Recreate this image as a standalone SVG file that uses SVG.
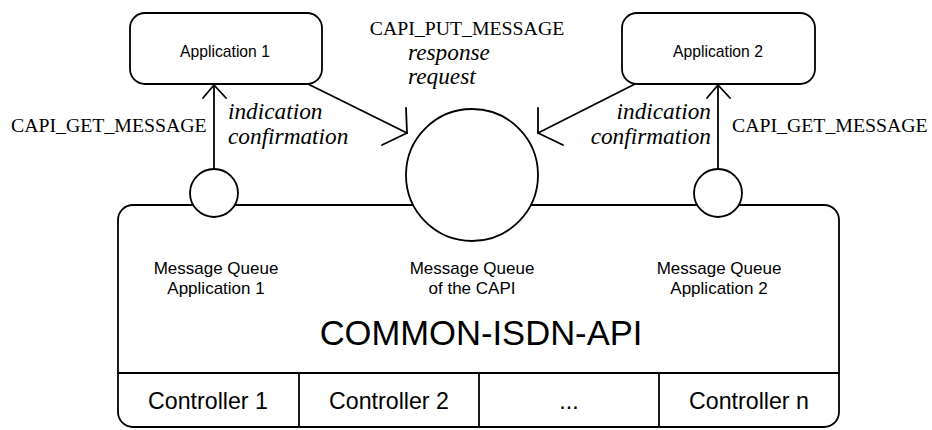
<svg xmlns="http://www.w3.org/2000/svg" width="932" height="430" viewBox="0 0 932 430">
<style>
.ln{fill:none;stroke:#000;stroke-width:1.8;stroke-linecap:round;stroke-linejoin:round}
.bx{fill:#fff;stroke:#000;stroke-width:1.8}
.sans{font-family:"Liberation Sans",Arial,sans-serif;fill:#000}
.serif{font-family:"Liberation Serif","Times New Roman",serif;fill:#000;font-size:19.8px}
.it{font-family:"Liberation Serif","Times New Roman",serif;font-style:italic;fill:#000;font-size:23.3px}
</style>
<rect width="932" height="430" fill="#fff"/>
<g id="capi">
<rect class="bx" x="118" y="205" width="721" height="222" rx="15"/>
<line class="ln" x1="118" y1="373" x2="839" y2="373"/>
<line class="ln" x1="299" y1="373" x2="299" y2="427"/>
<line class="ln" x1="479" y1="373" x2="479" y2="427"/>
<line class="ln" x1="659" y1="373" x2="659" y2="427"/>
<text class="sans" x="481" y="345" font-size="34.6" text-anchor="middle">COMMON-ISDN-API</text>
<text class="sans" x="208" y="409" font-size="23.2" text-anchor="middle">Controller 1</text>
<text class="sans" x="389" y="409" font-size="23.2" text-anchor="middle">Controller 2</text>
<text class="sans" x="569" y="409" font-size="23.2" text-anchor="middle">...</text>
<text class="sans" x="749" y="409" font-size="23.2" text-anchor="middle">Controller n</text>
</g>
<g id="queue1">
<circle class="bx" cx="214" cy="193" r="24"/>
<text class="sans" font-size="17" text-anchor="middle"><tspan x="216" y="274">Message Queue</tspan><tspan x="216" y="294">Application 1</tspan></text>
</g>
<g id="queueCapi">
<circle class="bx" cx="472" cy="175" r="66"/>
<text class="sans" font-size="17" text-anchor="middle"><tspan x="472" y="274">Message Queue</tspan><tspan x="472" y="294">of the CAPI</tspan></text>
</g>
<g id="queue2">
<circle class="bx" cx="718" cy="193" r="24"/>
<text class="sans" font-size="17" text-anchor="middle"><tspan x="719" y="274">Message Queue</tspan><tspan x="719" y="294">Application 2</tspan></text>
</g>
<g id="app1">
<rect class="bx" x="130" y="13" width="192" height="71" rx="15"/>
<text class="sans" x="225" y="57" font-size="15.7" text-anchor="middle">Application 1</text>
</g>
<g id="app2">
<rect class="bx" x="622" y="13" width="193" height="71" rx="15"/>
<text class="sans" x="718" y="57" font-size="15.7" text-anchor="middle">Application 2</text>
</g>
<g id="connectors">
<line class="ln" x1="214" y1="169" x2="214" y2="85"/>
<polyline class="ln" points="203,98 214,85 226,98"/>
<line class="ln" x1="718" y1="169" x2="718" y2="85"/>
<polyline class="ln" points="707,98 718,85 730,98"/>
<line class="ln" x1="308" y1="84" x2="407" y2="133"/>
<polyline class="ln" points="406,108 407,133 382,145"/>
<line class="ln" x1="635" y1="84" x2="538" y2="133"/>
<polyline class="ln" points="538,108 538,133 563,145"/>
</g>
<g id="labels">
<text class="serif" x="467" y="35" text-anchor="middle">CAPI_PUT_MESSAGE</text>
<text class="serif" x="11" y="132">CAPI_GET_MESSAGE</text>
<text class="serif" x="732" y="132">CAPI_GET_MESSAGE</text>
<text class="it" x="408" y="60">response</text>
<text class="it" x="408" y="84">request</text>
<text class="it" x="228" y="119">indication</text>
<text class="it" x="228" y="144">confirmation</text>
<text class="it" x="711" y="119" text-anchor="end">indication</text>
<text class="it" x="711" y="144" text-anchor="end">confirmation</text>
</g>
</svg>
